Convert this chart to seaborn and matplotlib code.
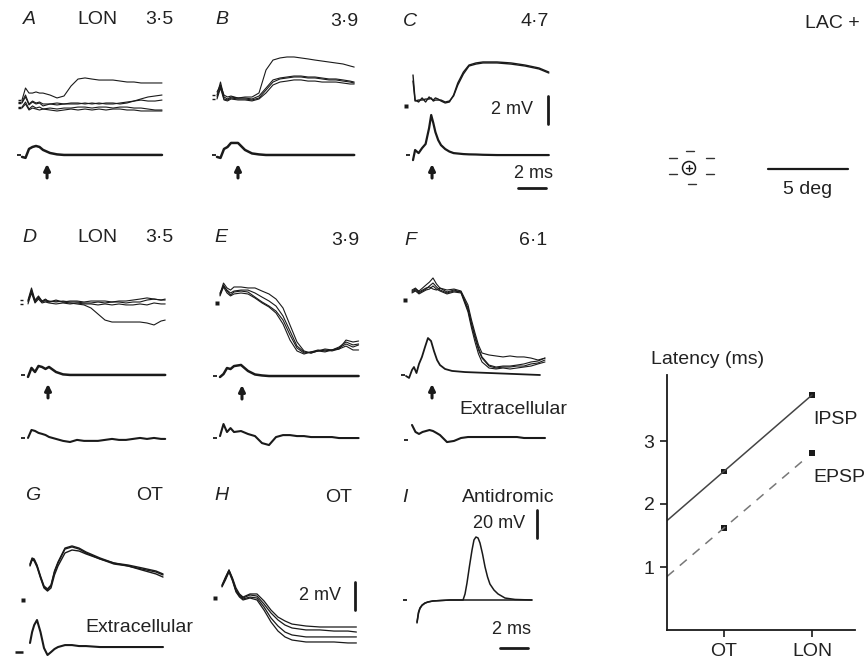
import numpy as np
import pandas as pd
import matplotlib
matplotlib.use("Agg")
import matplotlib.pyplot as plt
from matplotlib.lines import Line2D
from matplotlib.patches import Circle
import seaborn as sns

# ---------------- data (ms, mV) ----------------
t_A = [0, 0.25, 0.5, 0.75, 1, 1.25, 1.5, 2, 2.5, 3, 3.5, 4, 4.5, 5, 5.5, 6, 6.5, 7, 7.5, 8, 8.5, 9, 9.5, 10]
A_syn1 = [0.21, 1.07, 0.71, 0.71, 0.79, 0.71, 0.71, 0.57, 0.36, 0.5, 1.21, 1.71, 1.79, 1.71, 1.64, 1.64, 1.64, 1.57, 1.5, 1.5, 1.43, 1.43, 1.43, 1.43]
A_syn2 = [0.07, 0.57, -0.07, 0.14, 0, 0.07, -0.07, -0.07, -0.14, -0.07, -0.07, -0.07, 0, -0.07, 0, -0.07, -0.07, 0, 0.07, 0.14, 0.29, 0.43, 0.5, 0.57]
A_syn3 = [-0.29, 0.07, -0.43, -0.21, -0.36, -0.29, -0.43, -0.36, -0.43, -0.36, -0.36, -0.29, -0.29, -0.36, -0.29, -0.29, -0.36, -0.29, -0.29, -0.36, -0.36, -0.43, -0.5, -0.5]
A_syn4 = [0, 0.43, -0.14, 0.07, -0.07, 0, -0.21, -0.07, 0, -0.07, 0, 0, -0.07, 0, -0.07, 0, 0, -0.07, 0, 0.14, 0.21, 0.14, 0.14, 0.21]
A_syn5 = [-0.36, -0.07, -0.5, -0.36, -0.43, -0.5, -0.43, -0.5, -0.57, -0.5, -0.43, -0.5, -0.43, -0.5, -0.43, -0.5, -0.43, -0.43, -0.5, -0.5, -0.57, -0.57, -0.57, -0.57]
A_spike = [-0.14, -0.21, 0.43, 0.57, 0.64, 0.57, 0.36, 0.14, 0.04, 0, 0, 0, 0, 0, 0, 0, 0, 0, 0, 0, 0, 0, 0, 0]

t_B = [0, 0.25, 0.5, 0.75, 1, 1.5, 2, 2.5, 3, 3.5, 4, 4.5, 5, 5.5, 6, 6.5, 7, 7.5, 8, 8.5, 9, 9.5, 9.8]
B_syn1 = [0.43, 0.93, 0.21, 0.07, 0.14, 0, 0.07, 0.07, 0.36, 2.0, 2.71, 2.86, 2.93, 2.93, 2.86, 2.79, 2.71, 2.64, 2.57, 2.5, 2.43, 2.29, 2.21]
B_syn2 = [0.21, 1.14, 0.07, -0.07, 0.07, 0, 0, -0.07, 0.14, 0.71, 1.29, 1.43, 1.5, 1.57, 1.57, 1.5, 1.5, 1.43, 1.36, 1.36, 1.29, 1.21, 1.14]
B_syn3 = [0.07, 0.86, -0.07, -0.14, 0, -0.07, -0.07, -0.14, 0, 0.57, 1.14, 1.36, 1.43, 1.5, 1.5, 1.43, 1.43, 1.36, 1.29, 1.29, 1.21, 1.14, 1.07]
B_syn4 = [-0.07, 0.71, -0.14, -0.21, -0.07, -0.14, -0.14, -0.21, -0.07, 0.36, 0.93, 1.14, 1.21, 1.29, 1.29, 1.21, 1.21, 1.14, 1.14, 1.14, 1.07, 1.0, 1.0]
B_spike = [-0.14, -0.21, 0.43, 0.57, 0.86, 0.86, 0.36, 0.11, 0.04, 0, 0, 0, 0, 0, 0, 0, 0, 0, 0, 0, 0, 0, 0]

t_C = [0, 0.15, 0.4, 0.65, 0.9, 1.15, 1.3, 1.45, 1.6, 1.8, 2.0, 2.3, 2.6, 2.9, 3.2, 3.6, 4.0, 4.5, 5.0, 6.0, 7.0, 8.0, 9.0, 9.7]
C_syn1 = [1.93, 0.14, 0, 0.29, 0, 0.36, 0.21, 0.14, 0.29, 0.21, 0.07, -0.07, 0, 0.5, 1.36, 2.14, 2.64, 2.79, 2.86, 2.86, 2.79, 2.64, 2.43, 2.14]
C_syn2 = [1.5, 0.07, 0.14, 0.14, 0.21, 0.21, 0.29, 0.07, 0.14, 0.14, 0.14, 0.0, 0.07, 0.43, 1.21, 2.0, 2.57, 2.71, 2.79, 2.79, 2.71, 2.57, 2.36, 2.07]
C_spike = [-0.36, 0.36, 0.14, 0.5, 0.79, 1.93, 2.86, 2.29, 1.64, 1.07, 0.71, 0.43, 0.25, 0.14, 0.11, 0.07, 0.05, 0.04, 0.02, 0, 0, 0, 0, 0]

t_D = [0, 0.25, 0.5, 0.75, 1, 1.25, 1.5, 2, 2.5, 3, 3.5, 4, 4.5, 5, 5.5, 6, 6.5, 7, 7.5, 8, 8.5, 9, 9.5, 9.8]
D_syn1 = [0.14, 1.0, 0.14, 0.43, 0.07, 0.21, 0, 0.07, 0, -0.07, -0.14, -0.21, -0.43, -0.86, -1.29, -1.43, -1.43, -1.43, -1.43, -1.43, -1.5, -1.64, -1.36, -1.29]
D_syn2 = [0, 0.86, 0, 0.36, 0, 0.14, 0.07, 0, 0.07, 0, 0, -0.07, -0.07, 0, -0.07, 0, 0, -0.07, 0, 0, 0.14, 0.21, 0.14, 0.14]
D_syn3 = [-0.14, 0.64, -0.07, 0.21, -0.07, 0, -0.07, -0.14, -0.07, -0.14, -0.07, -0.14, -0.14, -0.21, -0.14, -0.21, -0.14, -0.21, -0.21, -0.14, -0.21, -0.07, -0.14, -0.14]
D_syn4 = [0.07, 0.79, 0.07, 0.29, 0.07, 0.07, 0.0, 0.14, 0.0, 0.07, 0.07, 0.0, 0.07, 0.07, 0.07, 0.0, 0.07, 0.07, 0.14, 0.21, 0.29, 0.21, 0.14, 0.21]
D_spike = [-0.14, 0.5, 0.21, 0.64, 0.57, 0.43, 0.57, 0.21, 0.04, 0, 0, 0, 0, 0, 0, 0, 0, 0, 0, 0, 0, 0, 0, 0]
D_extra = [0, 0.57, 0.5, 0.36, 0.29, 0.21, 0.07, -0.07, -0.21, -0.29, -0.14, -0.21, -0.21, -0.21, -0.14, -0.07, -0.14, -0.14, -0.07, 0, -0.07, 0, -0.07, -0.07]

t_E = [0, 0.25, 0.5, 0.75, 1, 1.5, 2, 2.5, 3, 3.5, 4, 4.5, 5, 5.5, 6, 6.5, 7, 7.5, 8, 8.5, 9, 9.5, 9.9]
E_syn1 = [-0.14, 0.57, 0.14, -0.14, 0.07, 0.14, 0.07, -0.29, -0.64, -0.93, -1.29, -1.93, -3.0, -3.93, -4.29, -4.21, -4.07, -4.14, -4.07, -3.93, -3.64, -3.86, -3.71]
E_syn2 = [-0.07, 0.71, 0.36, 0.21, 0.43, 0.43, 0.36, 0.36, 0.14, -0.07, -0.43, -1.07, -2.29, -3.5, -4.14, -4.29, -4.14, -4.21, -4.07, -4.0, -3.36, -3.5, -3.43]
E_syn3 = [-0.21, 0.43, 0, -0.21, -0.07, 0, -0.07, -0.36, -0.71, -1.0, -1.43, -2.21, -3.36, -4.14, -4.36, -4.21, -4.14, -4.07, -4.14, -4.0, -3.79, -4.07, -4.07]
E_syn4 = [0, 0.5, 0.21, 0, 0.14, 0.21, 0.21, 0, -0.29, -0.57, -0.93, -1.64, -2.71, -3.79, -4.21, -4.29, -4.14, -4.0, -4.07, -3.86, -3.5, -3.71, -3.64]
E_spike = [-0.07, 0.14, 0.57, 0.5, 0.71, 0.79, 0.36, 0.11, 0.04, 0, 0, 0, 0, 0, 0, 0, 0, 0, 0, 0, 0, 0, 0]
E_extra = [0.14, 1.0, 0.43, 0.71, 0.43, 0.5, 0.29, 0.14, -0.36, -0.5, 0.07, 0.21, 0.21, 0.14, 0.14, 0.07, 0.07, 0.07, 0.07, 0, 0, 0, 0]

t_F = [0, 0.25, 0.5, 0.75, 1, 1.25, 1.5, 1.75, 2, 2.5, 3, 3.5, 4, 4.25, 4.5, 4.75, 5, 5.5, 6, 6.5, 7, 7.5, 8, 8.5, 9, 9.5]
F_syn1 = [0.07, 0.21, -0.07, 0.07, 0.21, 0.29, 0.14, 0.07, 0.21, -0.07, 0.07, -0.07, -1.36, -2.43, -3.36, -4.21, -4.79, -5.36, -5.5, -5.43, -5.43, -5.36, -5.36, -5.21, -5.14, -4.93]
F_syn2 = [0, 0.14, 0, 0.21, 0.43, 0.64, 0.93, 0.5, 0.21, 0.07, 0.14, 0, -1.0, -2.07, -3.0, -3.86, -4.43, -4.57, -4.64, -4.71, -4.64, -4.71, -4.71, -4.79, -4.93, -4.79]
F_syn3 = [-0.14, 0, -0.21, -0.07, 0.07, 0.14, 0.36, 0.14, 0, -0.21, -0.07, -0.14, -1.5, -2.64, -3.64, -4.5, -5.07, -5.5, -5.57, -5.5, -5.57, -5.5, -5.43, -5.36, -5.21, -5.07]
F_syn4 = [-0.07, 0.07, -0.14, 0, 0.14, 0.36, 0.57, 0.29, 0.07, -0.14, 0, -0.07, -1.21, -2.29, -3.21, -4.07, -4.71, -5.29, -5.43, -5.36, -5.36, -5.29, -5.21, -5.07, -5.0, -4.79]
F_extra = [0.93, 0.43, 0.29, 0.43, 0.5, 0.57, 0.5, 0.36, 0.21, -0.29, -0.21, 0, 0.07, 0.07, 0.07, 0.07, 0.07, 0.07, 0.07, 0.07, 0.07, 0.07, 0, 0, 0, 0]
t_Fap = [-0.43, -0.21, 0, 0.14, 0.32, 0.5, 0.71, 0.93, 1.14, 1.36, 1.57, 1.79, 2.0, 2.36, 2.86, 3.79, 5.57, 7.36, 9.14]
F_spike = [-0.07, -0.21, 0.36, 0.57, 0.14, 0.79, 1.29, 2.0, 2.64, 2.43, 1.71, 1.07, 0.71, 0.43, 0.29, 0.21, 0.14, 0.07, 0]

t_G = [0, 0.15, 0.3, 0.5, 0.75, 1.0, 1.25, 1.5, 1.75, 2.0, 2.5, 3.0, 3.5, 4, 5, 6, 7, 8, 9, 9.5]
G_syn1 = [0, 0.43, 0.36, -0.07, -0.86, -1.57, -1.79, -1.5, -0.5, 0.14, 1.14, 1.29, 1.14, 0.86, 0.43, 0.07, -0.07, -0.29, -0.5, -0.71]
G_syn2 = [-0.07, 0.36, 0.29, -0.14, -0.93, -1.64, -1.86, -1.64, -0.71, -0.07, 0.86, 1.07, 1.0, 0.79, 0.43, 0.14, -0.07, -0.36, -0.64, -0.86]
G_syn3 = [0.07, 0.5, 0.43, 0, -0.79, -1.5, -1.71, -1.43, -0.43, 0.21, 1.21, 1.36, 1.21, 0.93, 0.5, 0.14, 0.0, -0.21, -0.43, -0.64]
G_extra = [0.29, 1.07, 1.57, 1.93, 1.07, -0.07, -0.57, -0.36, -0.14, 0, 0.14, 0.14, 0.07, 0.07, 0, 0, 0, 0, 0, 0]

t_H = [0, 0.25, 0.5, 0.75, 1.0, 1.25, 1.5, 2.0, 2.5, 3.0, 3.5, 4.0, 4.5, 5, 5.5, 6, 7, 8, 9, 9.6]
H_syn1 = [0, 0.57, 1.07, 0.5, -0.21, -0.64, -0.86, -0.64, -0.64, -1.14, -1.79, -2.29, -2.57, -2.79, -2.86, -2.93, -3.0, -3.0, -3.0, -3.0]
H_syn2 = [-0.07, 0.5, 1.07, 0.43, -0.36, -0.71, -0.93, -0.71, -0.79, -1.36, -2.0, -2.5, -2.86, -3.07, -3.14, -3.21, -3.21, -3.29, -3.29, -3.36]
H_syn3 = [-0.07, 0.43, 1.0, 0.36, -0.43, -0.79, -1.0, -0.86, -0.93, -1.57, -2.36, -2.93, -3.36, -3.57, -3.64, -3.71, -3.71, -3.71, -3.71, -3.71]
H_syn4 = [-0.14, 0.36, 0.93, 0.29, -0.5, -0.86, -1.07, -0.93, -1.07, -1.79, -2.64, -3.29, -3.71, -3.93, -4.0, -4.07, -4.07, -4.07, -4.14, -4.14]

t_I = [0, 0.11, 0.21, 0.36, 0.57, 0.79, 1.14, 1.64, 2.36, 3.07, 3.29, 3.43, 3.57, 3.75, 3.93, 4.07, 4.21, 4.36, 4.5, 4.68, 4.86, 5.04, 5.21, 5.5, 5.79, 6.29, 7.0, 8.21]
I_antidromic = [-15.7, -8.6, -5.7, -3.6, -2.1, -1.4, -0.7, -0.4, 0, 0, 0, 4.3, 12.1, 24.3, 35.7, 42.9, 45.0, 44.3, 40.7, 32.9, 23.6, 16.4, 11.4, 7.1, 4.3, 1.4, 0.4, 0]
I_failure = [-16.4, -9.3, -6.1, -3.9, -2.3, -1.4, -0.7, -0.4, 0, 0, 0, 0, 0, 0, 0, 0, 0, 0, 0, 0, 0, 0, 0, 0, 0, 0, 0, 0]

# stimulus arrows (ms)
arrow_t = {"A": 1.79, "B": 1.5, "C": 1.36, "D": 1.43, "E": 1.57, "F": 1.43}

# latency plot
sites = ["OT", "LON"]
site_x = [1, 2]
ipsp_latency = [2.52, 3.73]
epsp_latency = [1.62, 2.81]

# ---------------- figure ----------------
W, H = 866, 664
sns.set_theme(style="white")
plt.rcParams["font.family"] = ["Liberation Sans", "DejaVu Sans"]
INK = "#1a1a1a"
FS = 14

fig = plt.figure(figsize=(W / 100, H / 100), dpi=100)
PX = 14.0  # pixels per ms / per mV


def fx(x):
    return x / W


def fy(y):
    return 1 - y / H


axes_lims = []


def panel(x0, y0, box, vscale=PX):
    l, t, r, b = box
    ax = fig.add_axes([l / W, 1 - b / H, (r - l) / W, (b - t) / H])
    axes_lims.append((ax, ((l - x0) / PX, (r - x0) / PX), ((y0 - b) / vscale, (y0 - t) / vscale)))
    return ax


def traces(ax, t, sweeps, offset=0.0, lw=0.9, color=INK):
    n = len(sweeps)
    df = pd.DataFrame({
        "t": np.tile(np.asarray(t, float), n),
        "v": np.concatenate([np.asarray(s, float) for s in sweeps]) + offset,
        "sweep": np.repeat(np.arange(n), len(t)),
    })
    sns.lineplot(data=df, x="t", y="v", units="sweep", estimator=None, sort=False,
                 color=color, linewidth=lw, ax=ax, legend=False)


def dash(ax, t, v, length=0.28, lw=1.3):
    ax.plot([t - length, t], [v, v], color=INK, lw=lw, solid_capstyle="butt")


def dot(ax, t, v, ms=3.2):
    ax.plot([t], [v], "s", ms=ms, color=INK, mec="none")


def up_arrow(ax, t, base, vscale=PX):
    ax.annotate("", xy=(t, base - 9 / vscale), xytext=(t, base - 23 / vscale),
                arrowprops=dict(arrowstyle="-|>", mutation_scale=9, lw=2.2,
                                color=INK, shrinkA=0, shrinkB=0))


def txt(x, y, s, ha="center", size=FS, style="normal"):
    fig.text(fx(x), fy(y), s, ha=ha, va="center", fontsize=size, style=style, color="#222222")


# ---- A ----
axA = panel(22, 103, (0, 30, 195, 205))
traces(axA, t_A, [A_syn1, A_syn2, A_syn3, A_syn4, A_syn5], lw=0.8)
for s in [A_syn1, A_syn2, A_syn3, A_syn4, A_syn5]:
    dash(axA, -0.1, s[0], length=0.22, lw=1.0)
traces(axA, t_A, [A_spike], offset=-3.71, lw=1.8)
dash(axA, -0.1, -3.71)
up_arrow(axA, arrow_t["A"], -3.71)

# ---- B ----
axB = panel(217, 98, (195, 30, 390, 205))
traces(axB, t_B, [B_syn1, B_syn2, B_syn3, B_syn4], lw=0.8)
for s in [B_syn2, B_syn4]:
    dash(axB, -0.15, s[0], length=0.22, lw=1.0)
traces(axB, t_B, [B_spike], offset=-4.07, lw=1.8)
dash(axB, -0.1, -4.07)
up_arrow(axB, arrow_t["B"], -4.07)

# ---- C ----
axC = panel(413, 102, (390, 30, 600, 205))
traces(axC, t_C, [C_syn1, C_syn2], lw=1.0)
dot(axC, -0.5, -0.29)
traces(axC, t_C, [C_spike], offset=-3.79, lw=1.6)
dash(axC, -0.25, -3.79)
up_arrow(axC, arrow_t["C"], -3.79)
axC.plot([9.64, 9.64], [0.43, -1.57], color=INK, lw=2)
axC.plot([7.5, 9.5], [-6.14, -6.14], color=INK, lw=2)
txt(512, 109, "2 mV", size=13)
txt(533, 173, "2 ms", size=13)

# ---- D ----
axD = panel(28, 302, (0, 250, 195, 470))
traces(axD, t_D, [D_syn1, D_syn2, D_syn3, D_syn4], lw=0.8)
dash(axD, -0.35, 0.14, length=0.25, lw=1.0)
dash(axD, -0.35, -0.14, length=0.25, lw=1.0)
traces(axD, t_D, [D_spike], offset=-5.21, lw=1.8)
dash(axD, -0.2, -5.21)
up_arrow(axD, arrow_t["D"], -5.21)
traces(axD, t_D, [D_extra], offset=-9.71, lw=1.5)
dash(axD, -0.2, -9.71)

# ---- E ----
axE = panel(220, 293, (195, 250, 390, 470))
traces(axE, t_E, [E_syn1, E_syn2, E_syn3, E_syn4], lw=0.8)
dot(axE, -0.2, -0.71, ms=2.6)
traces(axE, t_E, [E_spike], offset=-5.93, lw=1.8)
dash(axE, -0.2, -5.93)
up_arrow(axE, arrow_t["E"], -5.93)
traces(axE, t_E, [E_extra], offset=-10.36, lw=1.5)
dash(axE, -0.2, -10.36)

# ---- F ----
axF = panel(412, 291, (390, 250, 600, 470))
traces(axF, t_F, [F_syn1, F_syn2, F_syn3, F_syn4], lw=0.8)
dot(axF, -0.5, -0.64, ms=2.6)
traces(axF, t_Fap, [F_spike], offset=-6.0, lw=1.3)
dash(axF, -0.5, -6.0)
up_arrow(axF, arrow_t["F"], -6.0)
traces(axF, t_F, [F_extra], offset=-10.5, lw=1.5)
dash(axF, -0.3, -10.64)
txt(513, 410, "Extracellular")

# ---- G ----
axG = panel(30, 565, (0, 510, 195, 664))
traces(axG, t_G, [G_syn1, G_syn2, G_syn3], lw=1.0)
dot(axG, -0.5, -2.5)
traces(axG, t_G, [G_extra], offset=-5.86, lw=1.5)
dash(axG, -0.5, -6.2, length=0.55, lw=1.8)
txt(139, 627, "Extracellular")

# ---- H ----
axH = panel(222, 585, (195, 510, 390, 664))
traces(axH, t_H, [H_syn1, H_syn2, H_syn3, H_syn4], lw=0.9)
dot(axH, -0.5, -0.93)
axH.plot([9.5, 9.5], [0.21, -1.79], color=INK, lw=2)
txt(320, 596, "2 mV", size=13)

# ---- I ----
axI = panel(417, 600, (390, 510, 600, 664), vscale=1.4)
traces(axI, t_I, [I_antidromic, I_failure], lw=1.1)
dash(axI, -0.75, 0, length=0.25)
axI.plot([8.57, 8.57], [64.3, 44.3], color=INK, lw=2)
axI.plot([5.93, 7.93], [-34.3, -34.3], color=INK, lw=2)
txt(499, 523, "20 mV", size=13)
txt(512, 630, "2 ms", size=13)

for ax, xl, yl in axes_lims:
    ax.set_xlim(*xl)
    ax.set_ylim(*yl)
    ax.axis("off")
    for ln in ax.lines:
        ln.set_clip_on(False)

# ---- panel headings ----
for x, y, s in [(29, 20, "A"), (222, 20, "B"), (410, 21, "C"),
                (29, 238, "D"), (221, 238, "E"), (410, 240, "F"),
                (33, 495, "G"), (221, 495, "H"), (405, 497, "I")]:
    txt(x, y, s, style="italic")
for x, y, s in [(97, 20, "LON"), (159, 20, "3·5"), (344, 21, "3·9"), (535, 21, "4·7"),
                (97, 238, "LON"), (159, 238, "3·5"), (345, 240, "3·9"), (533, 240, "6·1"),
                (150, 495, "OT"), (339, 497, "OT"), (508, 497, "Antidromic"),
                (832, 24, "LAC +")]:
    txt(x, y, s)

# ---- receptive field symbol and 5 deg bar ----
axRF = fig.add_axes([660 / W, 1 - 195 / H, 60 / W, 55 / H])
axRF.set_xlim(660, 720)
axRF.set_ylim(195, 140)
axRF.axis("off")
axRF.add_patch(Circle((689, 168), 6.5, fill=False, lw=1.1, color=INK))
axRF.plot([686, 692], [168, 168], color=INK, lw=1.0)
axRF.plot([689, 689], [165, 171], color=INK, lw=1.0)
for (xa, xb, yy) in [(686, 694, 151), (688, 696, 184), (669, 677, 158), (669, 677, 174),
                     (706, 714, 158), (706, 714, 174)]:
    axRF.plot([xa, xb], [yy, yy], color="#333333", lw=1.0)
fig.add_artist(Line2D([fx(768), fx(848)], [fy(169), fy(169)], lw=1.6, color=INK))
txt(808, 189, "5 deg")

# ---- latency plot ----
x_left, x_right = 1 - 57 / 88, 2 + 43 / 88
axL = fig.add_axes([667 / W, 1 - 630 / H, 188 / W, 255 / H])
for lat, end, style, col in [(ipsp_latency, 2.0, "-", "#444444"), (epsp_latency, 1.9, "--", "#777777")]:
    k, b = np.polyfit(site_x, lat, 1)
    xs = np.array([x_left, end])
    sns.lineplot(x=xs, y=k * xs + b, ax=axL, color=col, linewidth=1.1,
                 linestyle=style, dashes=False, legend=False)
    if style == "--":
        axL.lines[-1].set_dashes((6, 5))
sns.scatterplot(x=site_x, y=ipsp_latency, ax=axL, marker="s", s=14, color=INK, edgecolor="none")
sns.scatterplot(x=site_x, y=epsp_latency, ax=axL, marker="s", s=14, color=INK, edgecolor="none")
axL.set_xlim(x_left, x_right)
axL.set_ylim(0, 255 / 63)
axL.set_xticks(site_x)
axL.set_xticklabels(sites, fontsize=FS, color="#222222")
axL.set_yticks([1, 2, 3])
axL.set_yticklabels(["1", "2", "3"], fontsize=FS, color="#222222")
axL.tick_params(axis="both", direction="out", length=5, width=1.2, color=INK, pad=4,
                bottom=True, left=True)
for side in ["top", "right"]:
    axL.spines[side].set_visible(False)
for side in ["left", "bottom"]:
    axL.spines[side].set_color(INK)
    axL.spines[side].set_linewidth(1.3)
axL.set_xlabel("")
axL.set_ylabel("")
axL.patch.set_alpha(0)
txt(651, 360, "Latency (ms)", ha="left")
txt(813, 419, "IPSP", ha="left")
txt(813, 478, "EPSP", ha="left")

fig.savefig("out.png", dpi=100, facecolor="white")
